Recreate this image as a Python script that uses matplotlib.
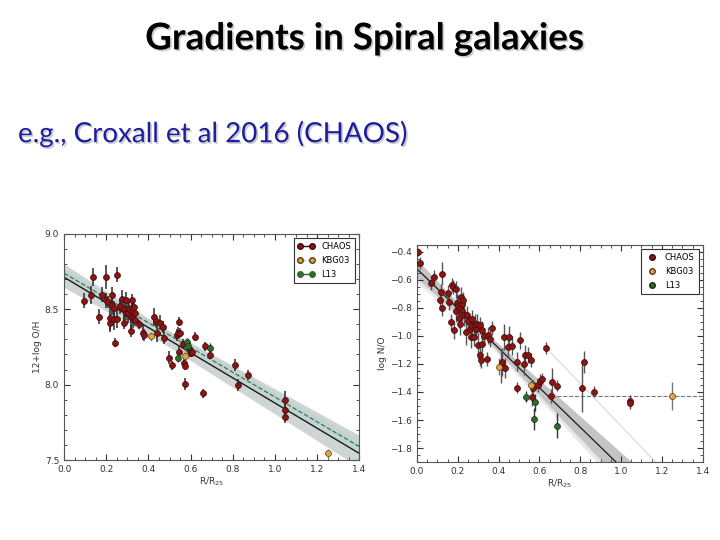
import numpy as np
import matplotlib
matplotlib.use("Agg")
import matplotlib.pyplot as plt
import matplotlib.patheffects as pe
from matplotlib.ticker import MultipleLocator

# Left panel: 12+log(O/H) vs R/R25
chaos_r_oh = [0.095, 0.127, 0.138, 0.165, 0.179, 0.201, 0.198, 0.209, 0.218, 0.220,
              0.225, 0.229, 0.237, 0.239, 0.242, 0.252, 0.253, 0.264, 0.275, 0.283,
              0.286, 0.293, 0.296, 0.304, 0.309, 0.315, 0.316, 0.321, 0.323, 0.328,
              0.331, 0.335, 0.337, 0.354, 0.372, 0.378, 0.427, 0.434, 0.442, 0.454,
              0.467, 0.476, 0.498, 0.511, 0.536, 0.540, 0.543, 0.544, 0.552, 0.565,
              0.570, 0.572, 0.573, 0.597, 0.603, 0.609, 0.620, 0.660, 0.668, 0.691,
              0.812, 0.824, 0.870, 1.047, 1.047, 1.047]
chaos_oh = [8.555, 8.595, 8.712, 8.450, 8.595, 8.712, 8.560, 8.550, 8.410, 8.440,
            8.595, 8.530, 8.507, 8.434, 8.279, 8.728, 8.434, 8.520, 8.566, 8.410,
            8.500, 8.562, 8.478, 8.478, 8.500, 8.450, 8.356, 8.490, 8.562, 8.434,
            8.513, 8.473, 8.430, 8.400, 8.345, 8.330, 8.447, 8.425, 8.340, 8.410,
            8.380, 8.307, 8.180, 8.128, 8.330, 8.340, 8.418, 8.219, 8.345, 8.270,
            8.146, 8.124, 8.004, 8.226, 8.212, 8.219, 8.319, 7.942, 8.256, 8.197,
            8.130, 7.998, 8.064, 7.898, 7.832, 7.788]
chaos_oh_err = [0.05, 0.06, 0.06, 0.05, 0.05, 0.08, 0.05, 0.04, 0.06, 0.08,
                0.05, 0.07, 0.05, 0.07, 0.03, 0.05, 0.06, 0.05, 0.06, 0.04,
                0.07, 0.05, 0.05, 0.07, 0.06, 0.08, 0.04, 0.05, 0.04, 0.06,
                0.05, 0.05, 0.04, 0.03, 0.05, 0.04, 0.06, 0.04, 0.06, 0.05,
                0.04, 0.04, 0.04, 0.03, 0.04, 0.04, 0.03, 0.04, 0.03, 0.03,
                0.04, 0.03, 0.04, 0.04, 0.03, 0.03, 0.03, 0.03, 0.03, 0.03,
                0.04, 0.04, 0.03, 0.06, 0.04, 0.04]
kbg_r_oh = [0.41, 0.575, 1.25]
kbg_oh = [8.32, 8.19, 7.544]
kbg_oh_err = [0.03, 0.04, 0.03]
l13_r_oh = [0.541, 0.581, 0.585, 0.589, 0.691]
l13_oh = [8.18, 8.27, 8.28, 8.256, 8.245]
l13_oh_err = [0.03, 0.04, 0.03, 0.03, 0.03]

# Right panel: log(N/O) vs R/R25
chaos_r_no = [0.005, 0.013, 0.070, 0.085, 0.113, 0.118, 0.123, 0.124, 0.154, 0.157,
              0.167, 0.174, 0.177, 0.183, 0.190, 0.193, 0.198, 0.203, 0.206, 0.210,
              0.213, 0.216, 0.219, 0.223, 0.228, 0.233, 0.239, 0.246, 0.252, 0.259,
              0.264, 0.269, 0.272, 0.280, 0.285, 0.290, 0.296, 0.301, 0.308, 0.311,
              0.314, 0.318, 0.321, 0.327, 0.341, 0.347, 0.359, 0.370, 0.414, 0.419,
              0.427, 0.432, 0.444, 0.452, 0.468, 0.490, 0.490, 0.504, 0.524, 0.529,
              0.544, 0.557, 0.563, 0.570, 0.593, 0.601, 0.611, 0.632, 0.657, 0.663,
              0.686, 0.807, 0.820, 0.866, 1.045, 1.045]
chaos_no = [-0.400, -0.479, -0.619, -0.581, -0.746, -0.686, -0.798, -0.555, -0.695, -0.758,
            -0.900, -0.633, -0.652, -0.960, -0.819, -0.667, -0.763, -0.786, -0.872, -0.912,
            -0.800, -0.722, -0.770, -0.824, -0.746, -0.848, -0.972, -0.853, -0.896, -0.948,
            -1.008, -0.929, -0.877, -1.008, -0.924, -0.953, -0.912, -1.067, -0.924, -1.134,
            -1.170, -0.960, -1.055, -1.001, -1.163, -0.996, -1.020, -0.941, -1.216, -1.187,
            -1.008, -1.230, -1.079, -1.008, -1.068, -1.183, -1.370, -1.032, -1.197, -1.134,
            -1.136, -1.170, -1.433, -1.373, -1.349, -1.325, -1.306, -1.086, -1.430, -1.330,
            -1.354, -1.370, -1.187, -1.397, -1.465, -1.480]
chaos_no_err = [0.03, 0.04, 0.05, 0.05, 0.06, 0.06, 0.06, 0.08, 0.06, 0.06,
                0.06, 0.05, 0.05, 0.06, 0.08, 0.06, 0.07, 0.08, 0.07, 0.08,
                0.08, 0.07, 0.06, 0.07, 0.06, 0.08, 0.09, 0.07, 0.06, 0.07,
                0.08, 0.07, 0.06, 0.06, 0.08, 0.07, 0.07, 0.09, 0.06, 0.08,
                0.06, 0.07, 0.06, 0.06, 0.05, 0.06, 0.06, 0.05, 0.12, 0.10,
                0.09, 0.07, 0.08, 0.08, 0.07, 0.07, 0.04, 0.06, 0.08, 0.07,
                0.06, 0.05, 0.07, 0.06, 0.05, 0.05, 0.04, 0.04, 0.05, 0.10,
                0.04, 0.17, 0.08, 0.04, 0.04, 0.04]
kbg_r_no = [0.40, 0.56, 1.25]
kbg_no = [-1.218, -1.349, -1.43]
kbg_no_err = [0.06, 0.05, 0.10]
l13_r_no = [0.534, 0.573, 0.58, 0.684]
l13_no = [-1.433, -1.593, -1.474, -1.64]
l13_no_err = [0.04, 0.08, 0.06, 0.09]

# fitted gradients
oh_fit = (8.712, -0.834)
oh_fit_dash = (8.739, -0.821)
no_fit = (-0.52, -1.415)
no_flat = -1.43

c_chaos = "#8b1414"
c_kbg = "#e0a83c"
c_l13 = "#2f6a2f"

fig = plt.figure(figsize=(7.2, 5.4), dpi=100)
fig.patch.set_facecolor("white")

shadow = [pe.withSimplePatchShadow(offset=(1.2, -1.2), shadow_rgbFace="#999999", alpha=0.5)]
fig.text(0.505, 0.928, "Gradients in Spiral galaxies", ha="center", va="center",
         fontsize=26.5, fontweight="bold", family="Lato", color="black", path_effects=shadow)
fig.text(0.025, 0.753, "e.g., Croxall et al 2016 (CHAOS)", ha="left", va="center",
         fontsize=20, family="Lato", color="#1d1da0", path_effects=shadow)


def style_axis(ax, ymajor, yminor):
    ax.xaxis.set_major_locator(MultipleLocator(0.2))
    ax.xaxis.set_minor_locator(MultipleLocator(0.05))
    ax.yaxis.set_major_locator(MultipleLocator(ymajor))
    ax.yaxis.set_minor_locator(MultipleLocator(yminor))
    ax.tick_params(which="both", direction="in", top=True, right=True,
                   labelsize=6.5, colors="#333333")
    ax.tick_params(which="major", length=4)
    ax.tick_params(which="minor", length=2)
    for sp in ax.spines.values():
        sp.set_color("#555555")
        sp.set_linewidth(0.8)
    ax.set_xlabel(r"R/R$_{25}$", fontsize=6.5, color="#333333", labelpad=1)


# ---- left panel ----
ax1 = fig.add_axes([0.089, 0.148, 0.41, 0.419])
rr = np.linspace(0, 1.4, 100)
line = oh_fit[0] + oh_fit[1] * rr
hw = 0.045 + 0.05 * np.abs(rr - 0.45)
ax1.fill_between(rr, line - hw, line + hw * 1.3, color="#c3caca", alpha=0.8, lw=0, zorder=1)
dline = oh_fit_dash[0] + oh_fit_dash[1] * rr
ax1.fill_between(rr, dline - 0.45 * hw, dline + 0.45 * hw, color="#b3d6d3", alpha=0.5, lw=0, zorder=1)
ax1.plot(rr, line, color="#1a1a1a", lw=1.0, zorder=2)
ax1.plot(rr, dline, color="#4d6e4d", lw=0.9, ls="--", zorder=2)

ax1.errorbar(chaos_r_oh, chaos_oh, yerr=chaos_oh_err, fmt="o", color=c_chaos, mec="#3a0808",
             ms=4.3, mew=0.5, ecolor="#2a2a2a", elinewidth=1.1, capsize=0, zorder=3)
ax1.errorbar(kbg_r_oh, kbg_oh, yerr=kbg_oh_err, fmt="o", color=c_kbg, mec="#5a3a10",
             ms=4.3, mew=0.5, ecolor="#888888", elinewidth=1.0, capsize=0, zorder=3)
ax1.errorbar(l13_r_oh, l13_oh, yerr=l13_oh_err, fmt="o", color=c_l13, mec="#153015",
             ms=4.3, mew=0.5, ecolor="#333333", elinewidth=1.0, capsize=0, zorder=4)
ax1.set_xlim(0, 1.4)
ax1.set_ylim(7.5, 9.0)
style_axis(ax1, 0.5, 0.1)
ax1.set_ylabel("12+log O/H", fontsize=6.5, color="#333333", labelpad=2)

h1 = [plt.Line2D([], [], color="#3a0808", marker="o", mfc=c_chaos, ms=4, lw=1),
      plt.Line2D([], [], color="#8fc8c8", marker="o", mfc=c_kbg, mec="#5a3a10", ms=4, lw=1, ls=":"),
      plt.Line2D([], [], color=c_l13, marker="o", mfc=c_l13, ms=4, lw=1)]
leg1 = ax1.legend(h1, ["CHAOS", "KBG03", "L13"], loc="upper right", fontsize=6, numpoints=2,
                  fancybox=False, edgecolor="#333333", handlelength=2, borderpad=0.5,
                  labelspacing=0.6, framealpha=1)
leg1.get_frame().set_linewidth(0.8)

# ---- right panel ----
ax2 = fig.add_axes([0.579, 0.1444, 0.397, 0.402])
line2 = no_fit[0] + no_fit[1] * rr
hw2 = 0.025 + 0.12 * np.abs(rr - 0.35)
ax2.fill_between(rr, line2 - hw2 * 1.5, line2 + hw2 * 0.6, color="#e8e8e8", lw=0, zorder=1)
ax2.fill_between(rr, line2 - hw2, line2 + hw2, color="#c4c4c4", lw=0, zorder=1)
rf = rr[rr >= 0.62]
ax2.plot(rf, -1.354 + (-1.52) * (rf - 0.81), color="#d8d8d8", lw=0.8, zorder=1)
ax2.plot(rr, line2, color="#1a1a1a", lw=0.9, zorder=2)
ax2.plot([0.657, 1.4], [no_flat, no_flat], color="#777777", lw=0.8, ls="--", zorder=2)

ax2.errorbar(chaos_r_no, chaos_no, yerr=chaos_no_err, fmt="o", color=c_chaos, mec="#3a0808",
             ms=4.3, mew=0.5, ecolor="#555555", elinewidth=1.0, capsize=0, zorder=3)
ax2.errorbar(kbg_r_no, kbg_no, yerr=kbg_no_err, fmt="o", color=c_kbg, mec="#5a3a10",
             ms=4.3, mew=0.5, ecolor="#777777", elinewidth=1.0, capsize=0, zorder=3)
ax2.errorbar(l13_r_no, l13_no, yerr=l13_no_err, fmt="o", color=c_l13, mec="#153015",
             ms=4.3, mew=0.5, ecolor="#333333", elinewidth=1.0, capsize=0, zorder=4)
ax2.set_xlim(0, 1.4)
ax2.set_ylim(-1.9, -0.35)
style_axis(ax2, 0.2, 0.05)
ax2.set_ylabel("log N/O", fontsize=6.5, color="#333333", labelpad=2)

h2 = [plt.Line2D([], [], ls="", marker="o", mfc=c_chaos, mec="#3a0808", ms=4),
      plt.Line2D([], [], ls="", marker="o", mfc=c_kbg, mec="#5a3a10", ms=4),
      plt.Line2D([], [], ls="", marker="o", mfc=c_l13, mec="#153015", ms=4)]
leg2 = ax2.legend(h2, ["CHAOS", "KBG03", "L13"], loc="upper right", fontsize=6, numpoints=1,
                  fancybox=False, edgecolor="#333333", handlelength=1.5, borderpad=0.5,
                  labelspacing=0.6, framealpha=1)
leg2.get_frame().set_linewidth(0.8)

plt.savefig("out.png", dpi=100)
plt.close(fig)
